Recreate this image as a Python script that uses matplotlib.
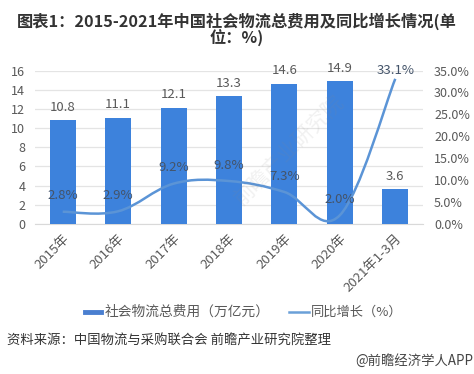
import matplotlib
matplotlib.use("Agg")
import numpy as np
import matplotlib.pyplot as plt
from matplotlib.path import Path
from matplotlib.patches import PathPatch

plt.rcParams['font.family'] = ['Noto Sans CJK SC', 'DejaVu Sans']

# 数据
categories = ["2015年", "2016年", "2017年", "2018年", "2019年", "2020年", "2021年1-3月"]
cost = [10.8, 11.1, 12.1, 13.3, 14.6, 14.9, 3.6]
growth = [2.8, 2.9, 9.2, 9.8, 7.3, 2.0, 33.1]
cost_ticks = [0, 2, 4, 6, 8, 10, 12, 14, 16]
growth_ticks = [0, 5, 10, 15, 20, 25, 30, 35]

BAR = "#3d82dc"
LINE = "#5b94d6"
GRID = "#e4e4e4"
TXT = "#595959"

W, H = 474, 374


def smooth_path(x, y, k=0.18):
    """经过各数据点的贝塞尔曲线"""
    verts = [(x[0], y[0])]
    codes = [Path.MOVETO]
    n = len(x)
    for i in range(n - 1):
        x0, y0 = (x[i - 1], y[i - 1]) if i > 0 else (x[i], y[i])
        x3, y3 = (x[i + 2], y[i + 2]) if i + 2 < n else (x[i + 1], y[i + 1])
        c1 = (x[i] + k * (x[i + 1] - x0), y[i] + k * (y[i + 1] - y0))
        c2 = (x[i + 1] - k * (x3 - x[i]), y[i + 1] - k * (y3 - y[i]))
        verts += [c1, c2, (x[i + 1], y[i + 1])]
        codes += [Path.CURVE4] * 3
    return Path(verts, codes)


fig = plt.figure(figsize=(W / 100, H / 100), dpi=100)
ax = fig.add_axes([35 / W, 1 - 224 / H, 388 / W, 153.5 / H])
ax2 = ax.twinx()
ax2.set_position(ax.get_position())

pos = np.arange(len(categories))
ax.bar(pos, cost, width=0.47, color=BAR, zorder=3)
ax.set_xlim(-0.5, 6.5)
ax.set_ylim(0, 16)
ax.set_yticks(cost_ticks)
ax.set_xticks(pos)
ax.set_xticklabels(categories, rotation=45, ha="right", rotation_mode="anchor", fontsize=9.5, color=TXT)
ax.tick_params(axis="y", length=0, labelsize=9, labelcolor=TXT, pad=7)
ax.tick_params(axis="x", length=0, pad=6)
ax.grid(axis="y", color=GRID, lw=0.9, zorder=0)
ax.set_axisbelow(True)
for s in ax.spines.values():
    s.set_visible(False)
ax.spines["bottom"].set_visible(True)
ax.spines["bottom"].set_color("#d9d9d9")

ax2.set_ylim(0, 35)
ax2.set_yticks(growth_ticks)
ax2.set_yticklabels([f"{v:.1f}%" for v in growth_ticks])
ax2.tick_params(axis="y", length=0, labelsize=9, labelcolor=TXT, pad=8)
for s in ax2.spines.values():
    s.set_visible(False)

patch = PathPatch(smooth_path(pos, growth), fc="none", ec=LINE, lw=1.8, zorder=4)
ax2.add_patch(patch)

for p, v in zip(pos, cost):
    ax.text(p, v + 1.35, f"{v:.1f}", ha="center", va="center", fontsize=9.5, color=TXT, zorder=5)
for p, v in zip(pos, growth):
    ax2.text(p, min(v + 3.6, 35), f"{v:.1f}%", ha="center", va="center", fontsize=9.5, color="#44546a", zorder=5)

# 水印
fig.text(290 / W, 1 - 150 / H, "前瞻产业研究院", rotation=45, ha="center", va="center",
         fontsize=15, color="#8a8a8a", alpha=0.12, zorder=6)

fig.text(237 / W, 1 - 21 / H, "图表1：2015-2021年中国社会物流总费用及同比增长情况(单", ha="center", va="center",
         fontsize=11.7, fontweight="bold", color="#333333")
fig.text(237 / W, 1 - 38 / H, "位：%)", ha="center", va="center", fontsize=11.7, fontweight="bold", color="#333333")

# 图例
fig.add_artist(plt.Line2D([85 / W, 101 / W], [1 - 312 / H] * 2, color="#4a7fd0", lw=3.5))
fig.text(105 / W, 1 - 312 / H, "社会物流总费用（万亿元）", va="center", fontsize=9.9, color=TXT)
fig.add_artist(plt.Line2D([289 / W, 309 / W], [1 - 312 / H] * 2, color="#6aa0d8", lw=1.8))
fig.text(311 / W, 1 - 312 / H, "同比增长（%）", va="center", fontsize=9.5, color=TXT)

fig.text(7 / W, 1 - 341 / H, "资料来源：中国物流与采购联合会 前瞻产业研究院整理", va="center", fontsize=9.6, color="#333333")
fig.text(473 / W, 1 - 361 / H, "@前瞻经济学人APP", ha="right", va="center", fontsize=9.6, color="#444444")

fig.savefig("out.png", dpi=100)
